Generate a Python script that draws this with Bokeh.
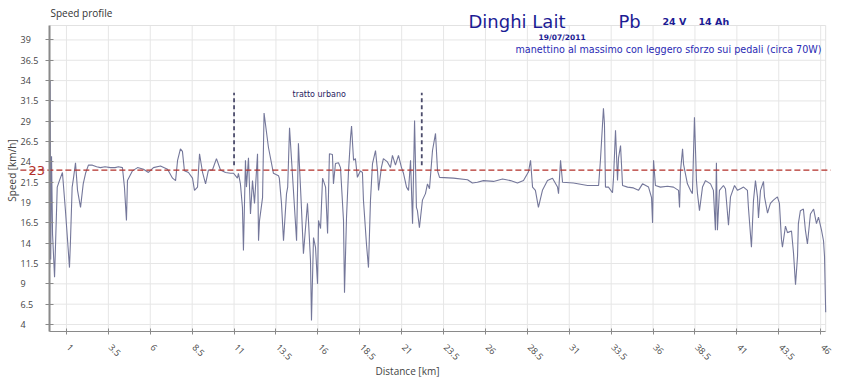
import math
from bokeh.plotting import figure
from bokeh.models import Range1d, FixedTicker, Label, LabelSet, ColumnDataSource
from bokeh.core.properties import value
from bokeh.embed import file_html
from bokeh.resources import INLINE

# ---------------- data ----------------
distance_km = [
    0.0, 0.03, 0.06, 0.11, 0.17, 0.29, 0.45, 0.58, 0.76, 0.94, 1.04, 1.18, 1.24, 1.34,
    1.42, 1.54, 1.66, 1.84, 2.0, 2.14, 2.31, 2.55, 2.8, 3.03, 3.3, 3.63, 3.9, 4.1, 4.34,
    4.46, 4.58, 4.64, 4.94, 5.24, 5.6, 5.89, 6.19, 6.61, 7.03, 7.33, 7.51, 7.63, 7.8,
    7.92, 8.04, 8.28, 8.52, 8.64, 8.82, 8.94, 9.12, 9.3, 9.47, 9.71, 9.95, 10.19, 10.49,
    10.79, 10.97, 11.2, 11.26, 11.38, 11.5, 11.56, 11.68, 11.74, 11.86, 11.98, 12.1,
    12.22, 12.4, 12.46, 12.52, 12.7, 12.79, 13.05, 13.35, 13.65, 13.7, 13.83, 13.95,
    14.13, 14.2, 14.31, 14.73, 14.84, 15.02, 15.14, 15.38, 15.44, 15.56, 15.62, 15.74,
    15.86, 15.98, 16.04, 16.16, 16.28, 16.46, 16.58, 16.69, 16.87, 16.93, 17.05, 17.23,
    17.35, 17.53, 17.59, 17.71, 17.83, 17.95, 18.01, 18.13, 18.24, 18.36, 18.54, 18.66,
    18.72, 18.9, 19.02, 19.14, 19.26, 19.44, 19.56, 19.62, 19.79, 19.91, 20.15, 20.33,
    20.45, 20.63, 20.81, 20.99, 21.11, 21.29, 21.41, 21.53, 21.65, 21.77, 21.88, 21.94,
    22.06, 22.24, 22.42, 22.54, 22.66, 22.84, 23.02, 23.14, 23.26, 24.09, 24.93, 25.22,
    25.52, 25.88, 26.48, 27.02, 27.49, 27.91, 28.27, 28.57, 28.69, 28.81, 28.98, 29.16,
    29.4, 29.7, 30.0, 30.3, 30.36, 30.48, 30.6, 31.25, 32.09, 32.75, 32.86, 33.04, 33.1,
    33.16, 33.34, 33.58, 33.64, 33.76, 33.88, 33.94, 34.06, 34.18, 34.48, 34.83, 35.13,
    35.37, 35.73, 35.91, 35.97, 36.03, 36.14, 36.44, 36.86, 37.22, 37.52, 37.58, 37.64,
    37.76, 37.82, 38.05, 38.23, 38.35, 38.47, 38.59, 38.65, 38.77, 38.95, 39.13, 39.43,
    39.6, 39.72, 39.78, 39.84, 39.96, 40.2, 40.32, 40.5, 40.62, 40.86, 41.04, 41.22,
    41.4, 41.63, 41.69, 41.87, 41.99, 42.11, 42.23, 42.29, 42.41, 42.59, 42.65, 42.83,
    43.0, 43.18, 43.42, 43.54, 43.66, 43.72, 43.9, 44.02, 44.26, 44.38, 44.5, 44.62,
    44.67, 44.79, 44.97, 45.09, 45.21, 45.39, 45.58, 45.75, 45.87, 46.05, 46.17, 46.23,
    46.3,
]
speed_kmh = [
    11.0, 34.0, 12.0, 24.7, 15.1, 9.8, 20.9, 21.7, 22.7, 18.0, 15.1, 11.0, 14.3, 20.9,
    22.0, 23.9, 20.5, 18.4, 21.3, 22.6, 23.6, 23.6, 23.4, 23.3, 23.4, 23.3, 23.3, 23.4, 23.3,
    20.9, 16.8, 21.7, 22.9, 23.3, 23.1, 22.7, 23.3, 23.5, 23.1, 22.0, 21.7, 24.2, 25.6,
    25.3, 22.9, 22.7, 22.0, 20.5, 20.9, 25.0, 22.7, 21.3, 23.0, 23.0, 24.4, 23.0, 22.7,
    22.6, 22.6, 22.0, 22.6, 21.3, 18.4, 13.1, 24.2, 20.9, 24.5, 17.6, 21.7,
    18.9, 25.0, 14.3, 16.8, 19.6, 30.0, 25.8, 22.6, 22.3, 22.0, 18.9, 14.3,
    20.1, 20.9, 28.2, 14.3, 26.3, 18.4, 12.7, 18.9, 16.8, 11.9, 4.5, 14.7,
    13.5, 9.0, 16.8, 15.8, 22.0, 20.9, 15.2, 25.0, 24.9, 21.3, 23.8, 23.9,
    23.3, 16.8, 7.9, 17.2, 22.9, 27.0, 28.4, 24.2, 24.4, 22.1, 22.9, 22.7,
    19.3, 13.9, 11.0, 19.3, 23.8, 25.4, 22.9, 20.5, 23.3, 24.4, 24.0, 23.3,
    24.8, 23.6, 24.8, 23.3, 22.6, 20.9, 20.5, 24.2, 16.4, 29.1, 18.4, 18.0,
    15.9, 19.3, 20.1, 21.3, 20.7, 25.4, 27.5, 22.9, 22.1, 22.0, 21.8, 21.4,
    21.5, 21.7, 21.6, 21.9, 21.7, 21.4, 21.7, 22.8, 24.2, 20.9, 20.5, 18.4,
    20.5, 21.7, 22.0, 20.9, 20.1, 24.2, 21.5, 21.4, 21.1, 21.1, 24.2, 30.6, 28.7,
    20.9, 20.9, 20.2, 22.0, 27.9, 21.7, 24.5, 26.0, 21.1, 20.9, 20.8, 20.5,
    21.3, 20.9, 19.6, 16.5, 24.2, 21.1, 20.9, 21.0, 20.9, 20.5, 18.4, 22.9,
    25.6, 23.7, 21.3, 20.5, 20.1, 29.5, 21.7, 20.1, 18.0, 20.9, 21.7, 21.3,
    20.5, 15.6, 23.9, 15.6, 20.5, 21.1, 20.7, 16.2, 19.7, 21.1, 20.5, 20.7,
    20.9, 20.5, 18.4, 13.5, 19.2, 21.7, 19.7, 17.1, 20.5, 21.6, 19.7, 17.7,
    18.9, 19.3, 19.7, 18.9, 14.5, 13.5, 16.1, 15.3, 15.5, 12.8, 8.9, 12.4,
    16.4, 18.0, 18.2, 15.6, 13.9, 17.6, 18.2, 16.4, 17.2, 15.6, 14.3, 12.4,
    5.5,
]
x_ticks = [1, 3.5, 6, 8.5, 11, 13.5, 16, 18.5, 21, 23.5, 26, 28.5, 31, 33.5, 36,
           38.5, 41, 43.5, 46]
x_tick_labels = ["1", "3.5", "6", "8.5", "11", "13.5", "16", "18.5", "21", "23.5",
                 "26", "28.5", "31", "33.5", "36", "38.5", "41", "43.5", "46"]
y_ticks = [4, 6.5, 9, 11.5, 14, 16.5, 19, 21.5, 24, 26.5, 29, 31.5, 34, 36.5, 39]
y_tick_labels = ["4", "6.5", "9", "11.5", "14", "16.5", "19", "21.5", "24", "26.5",
                 "29", "31.5", "34", "36.5", "39"]
reference_speed = 23
urban_marks_km = [11.0, 22.2]
urban_mark_low = [23.6, 23.6]
urban_mark_high = [32.5, 32.5]

# plotting-area extent (data units) and scale of the original chart
AX_X0, AX_X1 = 0.0, 46.3
AX_Y0, AX_Y1 = 3.14, 40.78
W, H = 850, 383
PX_PER_KM, PX_PER_KMH = 16.76, 8.13
LEFT_PX, Y4_PX = 49.2, 324.0   # page position of km 0 and of 4 km/h

x_range = Range1d(-LEFT_PX / PX_PER_KM, (W - LEFT_PX) / PX_PER_KM)
y_range = Range1d(4 - (H - Y4_PX) / PX_PER_KMH, 4 + Y4_PX / PX_PER_KMH)

p = figure(width=W, height=H, output_backend="svg", toolbar_location=None,
           x_range=x_range, y_range=y_range, min_border=0,
           min_border_left=0, min_border_right=0, min_border_top=0, min_border_bottom=0)
p.background_fill_color = "white"
p.border_fill_color = "white"
p.outline_line_color = None
p.xgrid.grid_line_color = None
p.ygrid.grid_line_color = None

# axes placed at the plotting-area edges
for ax, ticks in ((p.xaxis, x_ticks), (p.yaxis, y_ticks)):
    ax.ticker = FixedTicker(ticks=ticks)
    ax.major_label_overrides = {t: "" for t in ticks}
    ax.axis_line_color = "#8a8a8a"
    ax.major_tick_line_color = "#8a8a8a"
    ax.minor_tick_line_color = None
p.xaxis.fixed_location = AX_Y0
p.xaxis.bounds = (AX_X0, AX_X1)
p.yaxis.fixed_location = AX_X0
p.yaxis.bounds = (AX_Y0, AX_Y1)
p.yaxis.axis_line_width = 2
p.yaxis.major_tick_in = 4
p.yaxis.major_tick_out = 4
p.xaxis.major_tick_in = 3
p.xaxis.major_tick_out = 3

# grid lines and frame of the plotting area
grid_c = "#e6e6e6"
p.segment(x0=x_ticks, y0=[AX_Y0] * len(x_ticks), x1=x_ticks, y1=[AX_Y1] * len(x_ticks),
          line_color=grid_c, line_width=1, level="underlay")
p.segment(x0=[AX_X0] * len(y_ticks), y0=y_ticks, x1=[AX_X1] * len(y_ticks), y1=y_ticks,
          line_color=grid_c, line_width=1, level="underlay")
p.quad(left=[AX_X0], right=[AX_X1], bottom=[AX_Y0], top=[AX_Y1], fill_color=None,
       line_color="#e2e2e2", line_width=1, level="underlay")

# speed profile
p.line(distance_km, speed_kmh, line_color="#74779a", line_width=1.1)

# reference speed line (extends left of the axis as in the original)
p.segment(x0=[-1.75], y0=[reference_speed], x1=[46.6], y1=[reference_speed],
          line_color="#b3302a", line_dash="6 3", line_width=1.2)
p.add_layout(Label(x=28, x_units="screen", y=reference_speed, text="23",
                   text_font="DejaVu Sans", text_font_size="13px",
                   text_color="#b3302a", text_align="left", text_baseline="middle"))

# urban stretch markers
p.segment(x0=urban_marks_km, y0=urban_mark_low, x1=urban_marks_km, y1=urban_mark_high,
          line_color="#4c4c6c", line_dash="4 3", line_width=1.8)
p.add_layout(Label(x=292, y=H - 94, x_units="screen", y_units="screen", text="tratto urbano",
                   text_font="DejaVu Sans", text_font_size="8px",
                   text_color="#1f2060", text_align="left", text_baseline="middle"))

# tick labels
ysrc = ColumnDataSource(dict(y=y_ticks, t=y_tick_labels))
p.add_layout(LabelSet(x=20, x_units="screen", y="y", text="t", source=ysrc,
                      text_font=value("Open Sans"), text_font_size="9px",
                      text_color="#444444", text_align="left", text_baseline="middle"))
xsrc = ColumnDataSource(dict(x=x_ticks, t=x_tick_labels))
p.add_layout(LabelSet(x="x", y=H - 345, y_units="screen", x_offset=2, text="t", source=xsrc,
                      angle=-math.pi / 4, text_font=value("Open Sans"),
                      text_font_size="9px", text_color="#444444",
                      text_align="left", text_baseline="middle"))

# axis titles
p.add_layout(Label(x=407, y=H - 370, x_units="screen", y_units="screen",
                   text="Distance [km]", text_font="Open Sans", text_font_size="10px",
                   text_color="#444444", text_align="center", text_baseline="middle"))
p.add_layout(Label(x=11.5, y=H - 170, x_units="screen", y_units="screen",
                   text="Speed [km/h]", angle=math.pi / 2, text_font="Open Sans",
                   text_font_size="10px", text_color="#444444",
                   text_align="center", text_baseline="middle"))

# titles
p.add_layout(Label(x=50, y=H - 12, x_units="screen", y_units="screen", text="Speed profile",
                   text_font="Open Sans", text_font_size="10px",
                   text_color="#333333", text_align="left", text_baseline="middle"))
navy = "#1c1c94"
for txt, xs, size, style in (("Dinghi Lait", 468, "18px", "normal"),
                             ("Pb", 618, "18px", "normal"),
                             ("24 V", 662, "9.5px", "bold"),
                             ("14 Ah", 698, "9.5px", "bold")):
    p.add_layout(Label(x=xs, y=H - 20.5, x_units="screen", y_units="screen", text=txt,
                       text_font="DejaVu Sans", text_font_size=size,
                       text_font_style=style, text_color=navy,
                       text_align="left", text_baseline="alphabetic"))
p.add_layout(Label(x=538, y=H - 37, x_units="screen", y_units="screen", text="19/07/2011",
                   text_font="DejaVu Sans", text_font_size="7.5px",
                   text_font_style="bold", text_color=navy,
                   text_align="left", text_baseline="middle"))
p.add_layout(Label(x=515, y=H - 49, x_units="screen", y_units="screen",
                   text="manettino al massimo con leggero sforzo sui pedali (circa 70W)",
                   text_font="DejaVu Sans", text_font_size="9.6px",
                   text_color="#2a2ab4", text_align="left", text_baseline="middle"))

open("out.html", "w").write(file_html(p, INLINE))
